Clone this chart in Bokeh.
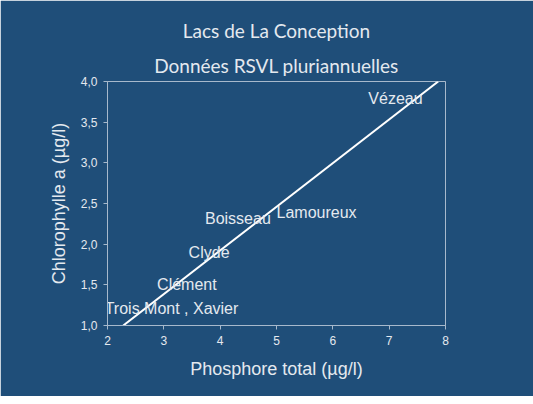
from bokeh.plotting import figure
from bokeh.models import Title, FixedTicker, CustomJSTickFormatter, ColumnDataSource, Range1d
from bokeh.core.properties import value
from bokeh.embed import file_html
from bokeh.resources import INLINE

# Data
lake_names = ["Vézeau", "Lamoureux", "Boisseau", "Clyde", "Clément", "Trois Mont , Xavier"]
lake_x = [6.63, 5.00, 3.73, 3.44, 2.88, 1.95]
lake_y = [3.79, 2.39, 2.31, 1.90, 1.51, 1.21]
fit_x = [2.28, 7.87]
fit_y = [1.0, 4.0]
x_ticks = [2, 3, 4, 5, 6, 7, 8]
y_ticks = [1.0, 1.5, 2.0, 2.5, 3.0, 3.5, 4.0]
title_lines = ["Lacs de La Conception", "Données RSVL pluriannuelles"]

BG = "#1f4e79"
AXC = "#a7b9cc"
TXT = "#e4e9ef"
FONT = "Liberation Sans"

p = figure(width=533, height=396, output_backend="svg", toolbar_location=None,
           x_range=Range1d(2, 8), y_range=Range1d(1, 4),
           min_border_left=107, min_border_right=88, min_border_top=81, min_border_bottom=71)
p.background_fill_color = BG
p.border_fill_color = BG
p.outline_line_color = AXC
p.outline_line_width = 1
p.grid.visible = False

for ax in (p.xaxis[0], p.yaxis[0]):
    ax.axis_line_color = AXC
    ax.major_tick_line_color = AXC
    ax.minor_tick_line_color = None
    ax.major_tick_out = 4
    ax.major_tick_in = 0
    ax.major_label_text_color = TXT
    ax.major_label_text_font = FONT
    ax.major_label_text_font_size = "12px"
    ax.axis_label_text_color = TXT
    ax.axis_label_text_font = FONT
    ax.axis_label_text_font_size = "18px"
    ax.axis_label_text_font_style = "normal"

p.xaxis.ticker = FixedTicker(ticks=x_ticks)
p.yaxis.ticker = FixedTicker(ticks=y_ticks)
p.yaxis.formatter = CustomJSTickFormatter(code="return tick.toFixed(1).replace('.', ',');")
p.xaxis.major_label_standoff = 6
p.yaxis.major_label_standoff = 6
p.xaxis.axis_label = "Phosphore total (µg/l)"
p.yaxis.axis_label = "Chlorophylle a (µg/l)"
p.xaxis.axis_label_standoff = 11
p.yaxis.axis_label_standoff = 9

p.line(fit_x, fit_y, line_color="white", line_width=2)

src = ColumnDataSource(dict(x=lake_x, y=lake_y, t=lake_names))
p.text(x="x", y="y", text="t", source=src, text_color=TXT, text_font=value(FONT),
       text_font_size="16px", text_baseline="middle", text_align="left")

p.title.visible = False
# add the second line first (closest to the frame), then the first line above it
for t in reversed(title_lines):
    p.add_layout(Title(text=t, align="center", text_color=TXT, text_font="Lato",
                       text_font_size="19px", text_font_style="normal"), "above")

open("out.html", "w").write(file_html(p, INLINE))
